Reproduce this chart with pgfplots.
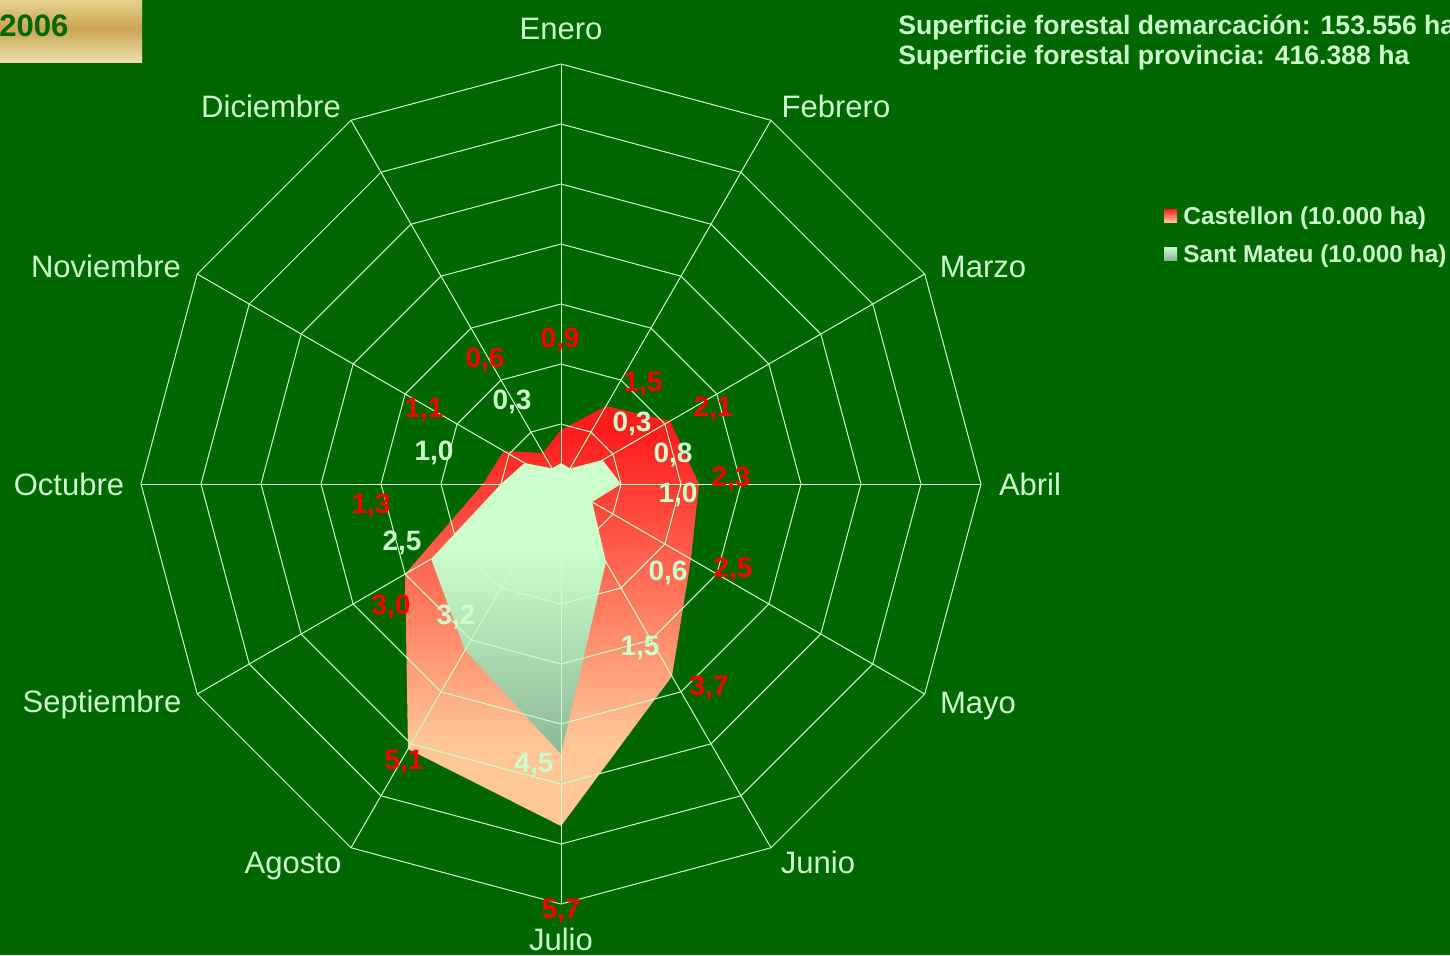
\documentclass[border=0pt]{standalone}
\usepackage{pgfplots}
\pgfplotsset{compat=1.18}
\usepgfplotslibrary{polar}
\usepackage{fontspec}
\setmainfont{Liberation Sans}
\definecolor{bg}{RGB}{0,102,0}
\definecolor{lg}{RGB}{204,255,204}
\definecolor{redtop}{RGB}{255,28,28}
\definecolor{peach}{RGB}{255,198,150}
\definecolor{gtop}{RGB}{204,255,204}
\definecolor{gbot}{RGB}{140,184,150}
\definecolor{gold1}{RGB}{230,210,140}
\definecolor{gold2}{RGB}{200,166,82}
\definecolor{gold3}{RGB}{236,222,172}
\definecolor{darkg}{RGB}{0,102,0}
\pgfdeclareverticalshading{castshade}{100bp}{color(0bp)=(peach); color(35bp)=(peach); color(72bp)=(redtop); color(100bp)=(redtop)}
\pgfdeclareverticalshading{santshade}{100bp}{color(0bp)=(gbot); color(25bp)=(gbot); color(60bp)=(gtop); color(100bp)=(gtop)}
\pgfdeclareverticalshading{castkey}{100bp}{color(0bp)=(peach); color(25bp)=(peach); color(75bp)=(redtop); color(100bp)=(redtop)}
\pgfdeclareverticalshading{santkey}{100bp}{color(0bp)=(gbot); color(25bp)=(gbot); color(75bp)=(gtop); color(100bp)=(gtop)}
\pgfdeclareverticalshading{goldshade}{100bp}{color(0bp)=(gold3); color(25bp)=(gold3); color(52bp)=(gold2); color(75bp)=(gold1); color(100bp)=(gold1)}
\begin{document}
\begin{tikzpicture}
\useasboundingbox (0,0) rectangle (725pt,-477.5pt);
\fill[bg] (0,0) rectangle (725pt,-477.5pt);
\begin{polaraxis}[
  at={(280.5pt,-242pt)}, anchor=center,
  scale only axis, width=420pt, height=420pt,
  xmin=0, xmax=360, ymin=0, ymax=7,
  hide axis, clip=false, no markers,
]
% Castellon
\addplot[draw=none, shade, shading=castshade] coordinates {
 (90,0.9) (60,1.5) (30,2.1) (0,2.3) (330,2.5) (300,3.7)
 (270,5.7) (240,5.1) (210,3.0) (180,1.3) (150,1.1) (120,0.6) (90,0.9)};
% Sant Mateu
\addplot[draw=none, shade, shading=santshade] coordinates {
 (90,0.35) (60,0.3) (30,0.8) (0,1.0) (330,0.6) (300,1.5)
 (270,4.5) (240,3.2) (210,2.5) (180,1.0) (150,0.7) (120,0.3) (90,0.35)};
% grid rings
\pgfplotsinvokeforeach{1,...,7}{
 \addplot[lg, line width=0.5pt] coordinates {(90,#1)(60,#1)(30,#1)(0,#1)(330,#1)(300,#1)(270,#1)(240,#1)(210,#1)(180,#1)(150,#1)(120,#1)(90,#1)};
}
% spokes
\pgfplotsinvokeforeach{0,30,...,330}{
 \addplot[lg, line width=0.5pt] coordinates {(#1,0)(#1,7)};
}
\end{polaraxis}
\begin{scope}[x=0.5pt,y=-0.5pt]
% year box
\path[shade, shading=goldshade] (0,0) rectangle (142,62);
\node[anchor=base west, inner sep=0pt, text=darkg, font=\fontsize{15.5}{18}\selectfont\bfseries] at (-1,36) {2006};
% header
\begin{scope}[every node/.style={anchor=base west, inner sep=0pt, text=lg, font=\fontsize{13.3}{16}\selectfont\bfseries}]
\node at (898,34) {Superficie forestal demarcación: 153.556 ha};
\node at (898,64) {Superficie forestal provincia: 416.388 ha};
\end{scope}
% legend
\path[shade, shading=castkey] (1164,209) rectangle (1177,222);
\path[shade, shading=santkey] (1164,247) rectangle (1177,260);
\begin{scope}[every node/.style={anchor=base west, inner sep=0pt, text=lg, font=\fontsize{12.2}{14}\selectfont\bfseries}]
\node at (1183,224) {Castellon (10.000 ha)};
\node at (1183,262) {Sant Mateu (10.000 ha)};
\end{scope}
% month labels
\begin{scope}[every node/.style={anchor=base, inner sep=0pt, text=lg, font=\fontsize{15.5}{18}\selectfont}]
\node at (561,39) {Enero};
\node at (836,117) {Febrero};
\node at (983,277) {Marzo};
\node at (1030,495) {Abril};
\node at (978,713) {Mayo};
\node at (818,873) {Junio};
\node at (561,950) {Julio};
\node at (293,873) {Agosto};
\node at (102,712) {Septiembre};
\node at (69,495) {Octubre};
\node at (106,277) {Noviembre};
\node at (271,117) {Diciembre};
\end{scope}
% Castellon data labels
\begin{scope}[every node/.style={anchor=base, inner sep=0pt, text=red, font=\fontsize{14}{16}\selectfont\bfseries}]
\node at (560,347) {0,9};
\node at (643,391) {1,5};
\node at (713,416) {2,1};
\node at (731,486) {2,3};
\node at (733,577) {2,5};
\node at (709,695) {3,7};
\node at (561,918) {5,7};
\node at (404,769) {5,1};
\node at (391,614) {3,0};
\node at (371,513) {1,3};
\node at (424,417) {1,1};
\node at (485,367) {0,6};
\end{scope}
% Sant Mateu data labels
\begin{scope}[every node/.style={anchor=base, inner sep=0pt, text=lg, font=\fontsize{14}{16}\selectfont\bfseries}]
\node at (632,431) {0,3};
\node at (673,462) {0,8};
\node at (678,502) {1,0};
\node at (668,580) {0,6};
\node at (640,655) {1,5};
\node at (534,772) {4,5};
\node at (456,624) {3,2};
\node at (402,550) {2,5};
\node at (434,460) {1,0};
\node at (512,409) {0,3};
\end{scope}
\end{scope}
\end{tikzpicture}
\end{document}
